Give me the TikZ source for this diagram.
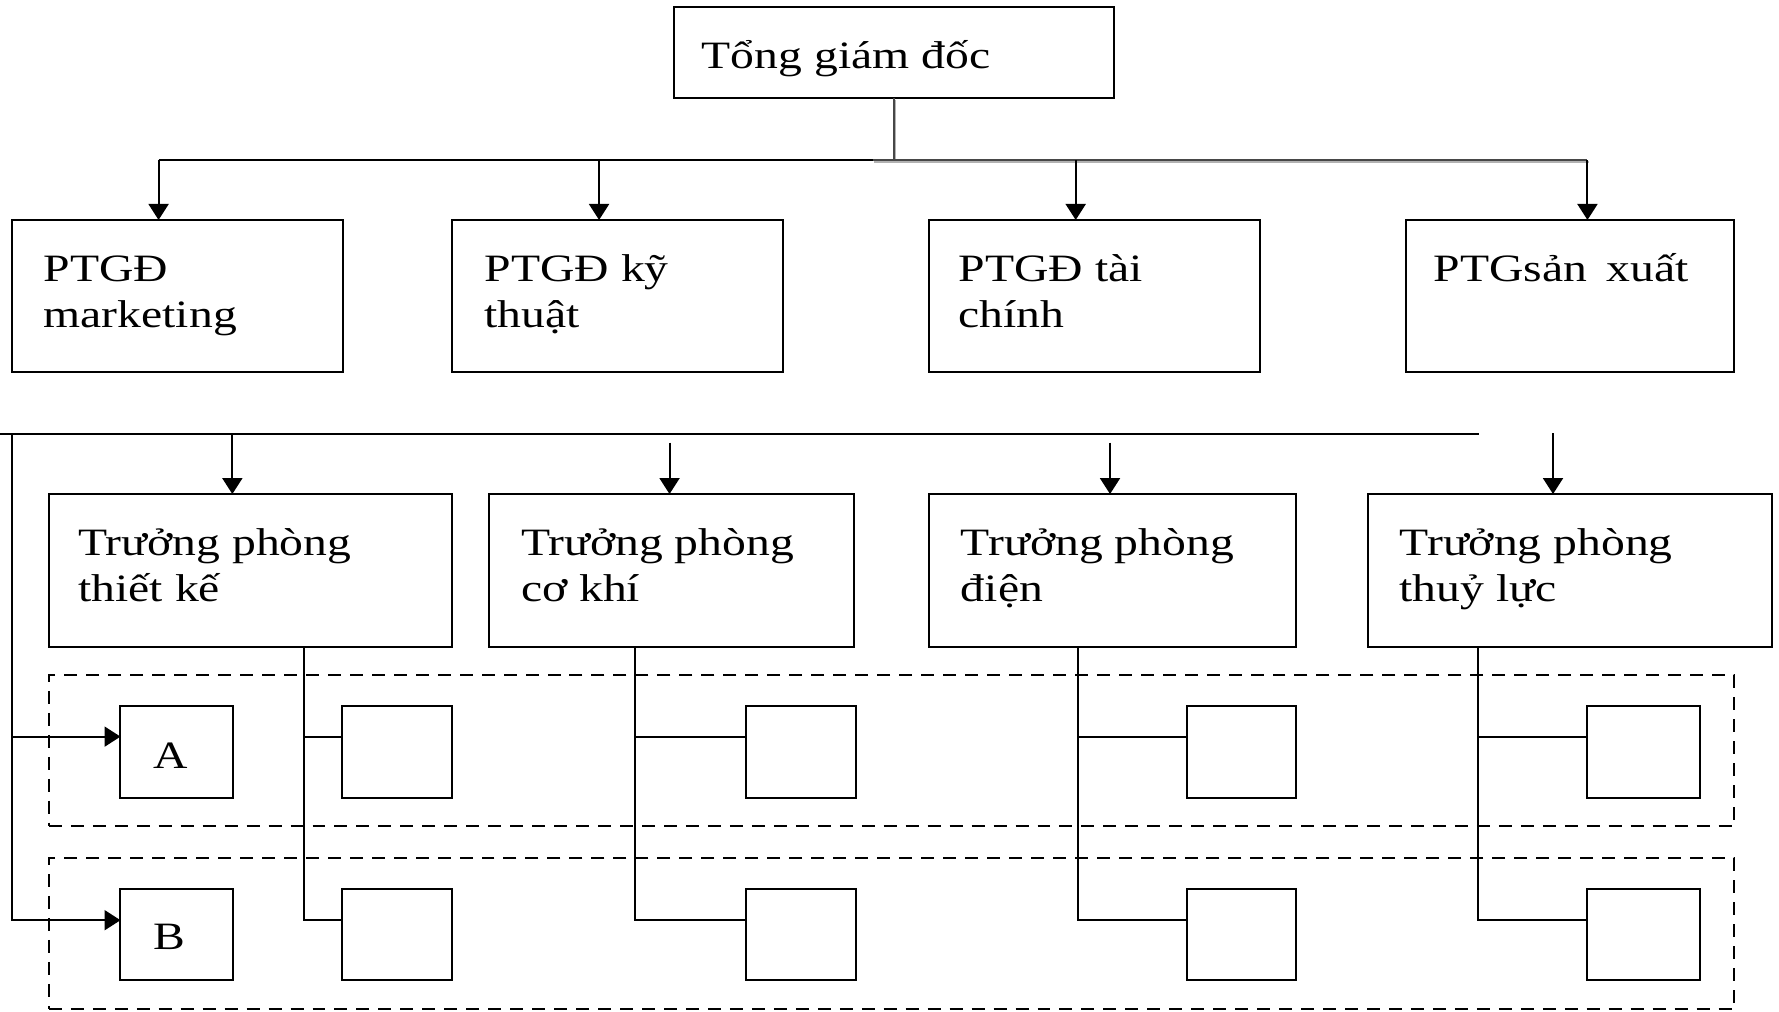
\documentclass[tikz,border=0pt]{standalone}
\usepackage{fontspec}
\setmainfont{Liberation Serif}[FakeStretch=1.23]
\usetikzlibrary{arrows.meta}
\newcommand{\mkbox}[6][box]{\node[#1, minimum width={(#5-#3)*0.02cm}, minimum height={(#6-#4)*0.02cm}] (#2) at ({(#3+#5)/2},{(#4+#6)/2}) {};}
\begin{document}
\begin{tikzpicture}[x=0.02cm,y=-0.02cm,
  box/.style={draw, line width=1pt, inner sep=0pt, outer sep=0pt},
  grp/.style={draw, line width=0.9pt, inner sep=0pt, outer sep=0pt, dash pattern=on 6.5pt off 4.5pt},
  txt/.style={anchor=base west, inner sep=0pt, align=left, font=\fontsize{19.4}{23}\selectfont},
  link/.style={line width=1pt},
  arr/.style={line width=1pt, -{Triangle[length=8pt,width=10pt]}},
  darkline/.style={line width=1pt, black!72},
  shadowline/.style={line width=1pt, black!30, transform canvas={xshift=0.7pt, yshift=-0.7pt}}]
\useasboundingbox (0,0) rectangle (1565,889.4);

% dashed groups
\mkbox[grp]{gA}{43}{594}{1525.5}{726.8}
\mkbox[grp]{gB}{43}{755}{1525.5}{887.7}

% boxes
\mkbox{top}{592.7}{6.5}{979.6}{86.5}
\mkbox{p1}{10.3}{193.5}{301.5}{327}
\mkbox{p2}{397.4}{193.5}{688.5}{327}
\mkbox{p3}{817.6}{193.5}{1108.5}{327}
\mkbox{p4}{1237}{193.5}{1525.5}{327}
\mkbox{r1}{43}{434.6}{397.4}{568.8}
\mkbox{r2}{430.2}{434.6}{751.5}{568.8}
\mkbox{r3}{817.5}{434.6}{1140}{568.8}
\mkbox{r4}{1203.6}{434.6}{1559}{568.8}
\mkbox{aA}{106}{620.8}{205.4}{702}
\mkbox{aB}{106}{782}{205.4}{862}
\mkbox{s1a}{301}{620.8}{397.5}{702}
\mkbox{s1b}{301}{782}{397.5}{862}
\mkbox{s2a}{656}{620.8}{753}{702}
\mkbox{s2b}{656}{782}{753}{862}
\mkbox{s3a}{1044}{620.8}{1140}{702}
\mkbox{s3b}{1044}{782}{1140}{862}
\mkbox{s4a}{1396}{620.8}{1495.6}{702}
\mkbox{s4b}{1396}{782}{1495.6}{862}

% texts (base anchor = baseline of the last line)
\node[txt] (ttop) at (617,60) {Tổng giám đốc};
\node[txt] (tp1) at (38,288) {PTGĐ\\marketing};
\node[txt] (tp2) at (426,288) {PTGĐ kỹ\\thuật};
\node[txt] (tp3) at (843,288) {PTGĐ tài\\chính};
\node[txt] (tp4) at (1261,248) {PTGsản\enspace xuất};
\node[txt] (tr1) at (68.6,529.5) {Trưởng phòng\\thiết kế};
\node[txt] (tr2) at (458,529.5) {Trưởng phòng\\cơ khí};
\node[txt] (tr3) at (845,529.5) {Trưởng phòng\\điện};
\node[txt] (tr4) at (1231,529.5) {Trưởng phòng\\thuỷ lực};
\node[txt] (tA) at (135,676) {A};
\node[txt] (tB) at (135,835) {B};

% top bus
\coordinate (b1) at (139.5,141);
\coordinate (b2) at (527,141);
\coordinate (b3) at (946.3,141);
\coordinate (b4) at (1396.5,141);
\coordinate (bg) at (768,141);
\draw[shadowline] (top.south) |- (b4);
\draw[shadowline] (bg) -- (top.south |- bg);
\draw[darkline] (top.south) |- (b4);
\draw[darkline] (bg) -- (top.south |- bg);
\draw[link] (b1) -- (bg);
\draw[arr] (b1) -- (b1 |- p1.north);
\draw[arr] (b2) -- (b2 |- p2.north);
\draw[arr] (b3) -- (b3 |- p3.north);
\draw[arr] (b4) -- (b4 |- p4.north);

% second bus
\coordinate (h0) at (0,382);
\coordinate (h1) at (1301,382);
\draw[link] (h0) -- (h1);
\coordinate (d1) at (204.4,382);
\coordinate (d2) at (589,389.4);
\coordinate (d3) at (976.5,389.4);
\coordinate (d4) at (1366.2,381);
\draw[arr] (d1) -- (d1 |- r1.north);
\draw[arr] (d2) -- (d2 |- r2.north);
\draw[arr] (d3) -- (d3 |- r3.north);
\draw[arr] (d4) -- (d4 |- r4.north);

% left vertical to A and B
\coordinate (v0) at (10.5,382);
\coordinate (vA) at (10.5,648);
\coordinate (vB) at (10.5,809.5);
\draw[arr] (v0) -- (vB) -- (vB -| aB.west);
\draw[arr] (vA) -- (vA -| aA.west);

% columns
\coordinate (c1) at (267.7,648); \coordinate (e1) at (267.7,809.5);
\coordinate (c2) at (559,648);   \coordinate (e2) at (559,809.5);
\coordinate (c3) at (948,648);   \coordinate (e3) at (948,809.5);
\coordinate (c4) at (1300.5,648);\coordinate (e4) at (1300.5,809.5);
\draw[link] (r1.south -| c1) -- (e1) -- (e1 -| s1b.west);
\draw[link] (c1) -- (c1 -| s1a.west);
\draw[link] (r2.south -| c2) -- (e2) -- (e2 -| s2b.west);
\draw[link] (c2) -- (c2 -| s2a.west);
\draw[link] (r3.south -| c3) -- (e3) -- (e3 -| s3b.west);
\draw[link] (c3) -- (c3 -| s3a.west);
\draw[link] (r4.south -| c4) -- (e4) -- (e4 -| s4b.west);
\draw[link] (c4) -- (c4 -| s4a.west);
\end{tikzpicture}
\end{document}
